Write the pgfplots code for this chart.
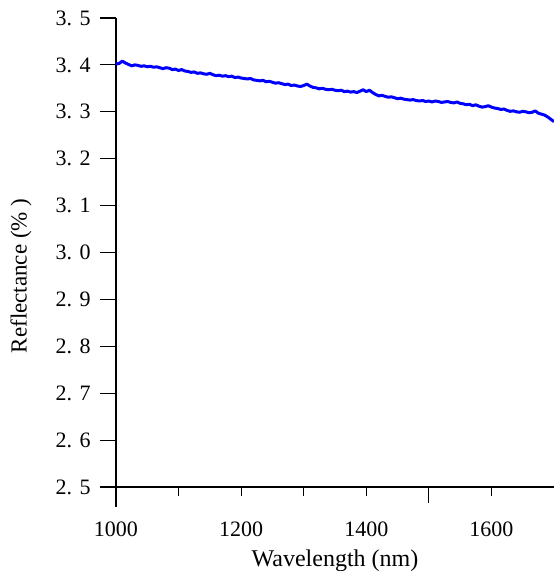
\documentclass[border=0pt]{standalone}
\usepackage{fontspec}
\setmainfont{Liberation Serif}
\usepackage{pgfplots}
\pgfplotsset{compat=1.18}
\begin{document}
\begin{tikzpicture}
\begin{axis}[
  scale only axis,
  width=438bp, height=469bp,
  xmin=1000, xmax=1700, ymin=2.5, ymax=3.5,
  axis x line*=bottom, axis y line*=left,
  x axis line style={-, line width=1.2bp, shorten <=-16bp},
  y axis line style={-, line width=1.2bp, shorten <=-20bp},
  tick align=outside,
  xtick={1000,1100,...,1600},
  xticklabels={1000,,1200,,1400,,1600},
  ytick={2.5,2.6,...,3.51},
  yticklabels={2. 5,2. 6,2. 7,2. 8,2. 9,3. 0,3. 1,3. 2,3. 3,3. 4,3. 5},
  x tick style={line width=1.2bp, black, /pgfplots/major tick length=9bp},
  y tick style={line width=1.2bp, black, /pgfplots/major tick length=16bp},
  extra x ticks={1500},
  extra x tick labels={},
  extra x tick style={x tick style={/pgfplots/major tick length=16bp}},
  minor tick num=0,
  tick label style={font=\fontsize{22bp}{26bp}\selectfont},
  xticklabel style={anchor=north, inner sep=0pt, yshift=-30bp},
  yticklabel style={anchor=east, inner sep=0pt, xshift=-21bp},
  xlabel={Wavelength (nm)},
  ylabel={Reflectance (\%\ )},
  every axis x label/.style={at={(rel axis cs:0.5,0)}, yshift=-74bp, anchor=center, font=\fontsize{24bp}{28bp}\selectfont},
  every axis y label/.style={at={(rel axis cs:0,0.45)}, xshift=-95bp, rotate=90, anchor=center, font=\fontsize{23bp}{27bp}\selectfont},
  clip=false,
]
\addplot[color={rgb,255:red,0;green,0;blue,255}, line width=3bp, line join=round] table[row sep=\\] {
x y\\
1000 3.402\\ 1005 3.403\\ 1010 3.408\\ 1015 3.404\\ 1020 3.401\\ 1025 3.398\\ 1030 3.400\\ 1035 3.399\\ 1040 3.397\\ 1045 3.398\\
1050 3.396\\ 1055 3.397\\ 1060 3.395\\ 1065 3.396\\ 1070 3.394\\ 1075 3.392\\ 1080 3.394\\ 1085 3.393\\ 1090 3.390\\ 1095 3.391\\
1100 3.388\\ 1105 3.390\\ 1110 3.387\\ 1115 3.386\\ 1120 3.384\\ 1125 3.385\\ 1130 3.382\\ 1135 3.383\\ 1140 3.381\\ 1145 3.380\\
1150 3.382\\ 1155 3.379\\ 1160 3.377\\ 1165 3.378\\ 1170 3.376\\ 1175 3.377\\ 1180 3.375\\ 1185 3.376\\ 1190 3.373\\ 1195 3.374\\
1200 3.372\\ 1205 3.371\\ 1210 3.370\\ 1215 3.371\\ 1220 3.368\\ 1225 3.367\\ 1230 3.366\\ 1235 3.367\\ 1240 3.364\\ 1245 3.365\\
1250 3.363\\ 1255 3.361\\ 1260 3.362\\ 1265 3.360\\ 1270 3.358\\ 1275 3.359\\ 1280 3.356\\ 1285 3.357\\ 1290 3.355\\ 1295 3.354\\
1300 3.356\\ 1305 3.359\\ 1310 3.355\\ 1315 3.352\\ 1320 3.351\\ 1325 3.349\\ 1330 3.350\\ 1335 3.348\\ 1340 3.347\\ 1345 3.348\\
1350 3.346\\ 1355 3.345\\ 1360 3.346\\ 1365 3.343\\ 1370 3.344\\ 1375 3.342\\ 1380 3.343\\ 1385 3.341\\ 1390 3.344\\ 1395 3.347\\
1400 3.343\\ 1405 3.346\\ 1410 3.341\\ 1415 3.337\\ 1420 3.334\\ 1425 3.335\\ 1430 3.333\\ 1435 3.331\\ 1440 3.332\\ 1445 3.330\\
1450 3.328\\ 1455 3.329\\ 1460 3.327\\ 1465 3.326\\ 1470 3.325\\ 1475 3.326\\ 1480 3.324\\ 1485 3.323\\ 1490 3.324\\ 1495 3.322\\
1500 3.323\\ 1505 3.321\\ 1510 3.323\\ 1515 3.322\\ 1520 3.320\\ 1525 3.321\\ 1530 3.322\\ 1535 3.320\\ 1540 3.319\\ 1545 3.321\\
1550 3.318\\ 1555 3.317\\ 1560 3.315\\ 1565 3.316\\ 1570 3.313\\ 1575 3.315\\ 1580 3.312\\ 1585 3.310\\ 1590 3.311\\ 1595 3.313\\
1600 3.310\\ 1605 3.308\\ 1610 3.307\\ 1615 3.305\\ 1620 3.306\\ 1625 3.303\\ 1630 3.301\\ 1635 3.302\\ 1640 3.300\\ 1645 3.299\\
1650 3.301\\ 1655 3.300\\ 1660 3.298\\ 1665 3.299\\ 1670 3.302\\ 1675 3.297\\ 1680 3.295\\ 1685 3.293\\ 1690 3.289\\ 1695 3.284\\
1700 3.279\\
};
\coordinate (sw) at (rel axis cs:0,0);
\coordinate (ne) at (rel axis cs:1,1);
\end{axis}
\pgfresetboundingbox
\path ([shift={(-116bp,-84bp)}]sw) rectangle ([shift={(0bp,18bp)}]ne);
\end{tikzpicture}
\end{document}
